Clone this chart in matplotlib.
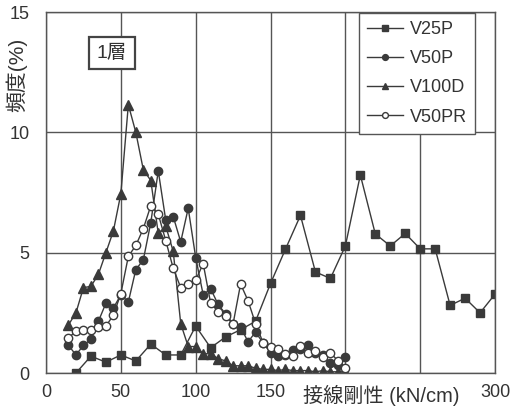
import matplotlib
matplotlib.use('Agg')
import matplotlib.pyplot as plt
import numpy as np

plt.rcParams['font.family'] = ['Liberation Sans', 'Noto Sans CJK JP', 'DejaVu Sans']

# V25P (10 kN/cm step)
x_v25p = [20, 30, 40, 50, 60, 70, 80, 90, 100, 110, 120, 130, 140, 150, 160, 170, 180,
          190, 200, 210, 220, 230, 240, 250, 260, 270, 280, 290, 300, 310]
y_v25p = [0.0, 0.7, 0.45, 0.75, 0.5, 1.2, 0.75, 0.75, 1.95, 1.05, 1.5, 1.8, 2.15, 3.72,
          5.15, 6.55, 4.2, 3.93, 5.28, 8.23, 5.78, 5.28, 5.8, 5.16, 5.16, 2.81, 3.11, 2.5,
          3.28, 2.0]

# V50P / V100D / V50PR (5 kN/cm step)
x_5 = list(range(15, 205, 5))
y_v50p = [1.15, 0.75, 1.15, 1.4, 2.15, 2.9, 2.7, 3.25, 2.95, 4.3, 4.7, 6.25, 8.4, 6.35,
          6.5, 5.45, 6.85, 4.8, 3.25, 3.5, 2.85, 2.45, 2.05, 1.9, 1.3, 1.7, 1.25, 0.85,
          0.7, 0.75, 0.95, 1.0, 1.15, 0.85, 0.75, 0.4, 0.35, 0.65]
y_v100d = [2.0, 2.5, 3.55, 3.6, 4.1, 5.0, 5.9, 7.45, 11.15, 10.0, 8.45, 8.0, 5.8, 6.1,
           5.05, 2.05, 1.1, 1.1, 0.8, 0.8, 0.6, 0.5, 0.3, 0.3, 0.3, 0.2, 0.15, 0.15,
           0.1, 0.15, 0.1, 0.1, 0.1, 0.05, 0.1, 0.05, 0.05, 0.05]
y_v50pr = [1.45, 1.75, 1.8, 1.8, 1.9, 1.95, 2.4, 3.3, 4.85, 5.3, 6.0, 6.95, 6.6, 5.5,
           4.35, 3.55, 3.7, 3.85, 4.55, 2.9, 2.55, 2.35, 2.05, 3.7, 3.0, 2.05, 1.26,
           1.1, 0.98, 0.78, 0.7, 1.12, 0.84, 0.93, 0.68, 0.84, 0.51, 0.19]

xticks = [0, 50, 100, 150, 200, 250, 300]
xtick_labels = ['0', '50', '100', '150', '', '', '300']
yticks = [0, 5, 10, 15]

lc = '#3a3a3a'
tc = '#333333'
fs = 13

fig = plt.figure(figsize=(5.2, 4.17), dpi=100)
ax = fig.add_axes([0.0885, 0.1055, 0.8635, 0.8655])

ax.plot(x_v25p, y_v25p, color=lc, lw=1.0, marker='s', ms=6, mfc=lc, mec=lc, label='V25P')
ax.plot(x_5, y_v50p, color=lc, lw=1.0, marker='o', ms=6, mfc=lc, mec=lc, label='V50P')
ax.plot(x_5, y_v100d, color=lc, lw=1.0, marker='^', ms=6.5, mfc=lc, mec=lc, label='V100D')
ax.plot(x_5, y_v50pr, color=lc, lw=1.0, marker='o', ms=6, mfc='white', mec=lc, mew=1.0,
        label='V50PR')

ax.set_xlim(0, 300)
ax.set_ylim(0, 15)
ax.set_xticks(xticks)
ax.set_xticklabels(xtick_labels)
ax.set_yticks(yticks)
ax.grid(True, color='#555555', lw=1.0)
ax.set_axisbelow(True)
ax.tick_params(length=0, labelsize=fs, colors=tc)
ax.tick_params(axis='x', pad=8)
ax.tick_params(axis='y', pad=12)
for s in ax.spines.values():
    s.set_color('#555555')
    s.set_linewidth(1.0)

# 縦軸ラベル
ax.text(-0.066, 0.825, '頻度(%)', transform=ax.transAxes, rotation=90, fontsize=15,
        color=tc, ha='center', va='center')
# 横軸ラベル
ax.text(224, -0.92, '接線剛性 (kN/cm)', fontsize=14.5, color=tc,
        ha='center', va='center', clip_on=False)

ax.text(0.147, 0.886, '1層', transform=ax.transAxes, fontsize=14, color=tc,
        ha='center', va='center',
        bbox=dict(boxstyle='square,pad=0.38', fc='white', ec='#444444', lw=1.6))

leg = ax.legend(loc='upper right', bbox_to_anchor=(0.955, 0.998), borderaxespad=0,
                fontsize=fs, frameon=True, fancybox=False, edgecolor='#555555',
                framealpha=1, markerscale=0.7, handlelength=2.0, labelspacing=0.68,
                borderpad=0.45, handletextpad=0.35, labelcolor=tc)
leg.get_frame().set_linewidth(1.0)

fig.savefig('out.png', dpi=100)
